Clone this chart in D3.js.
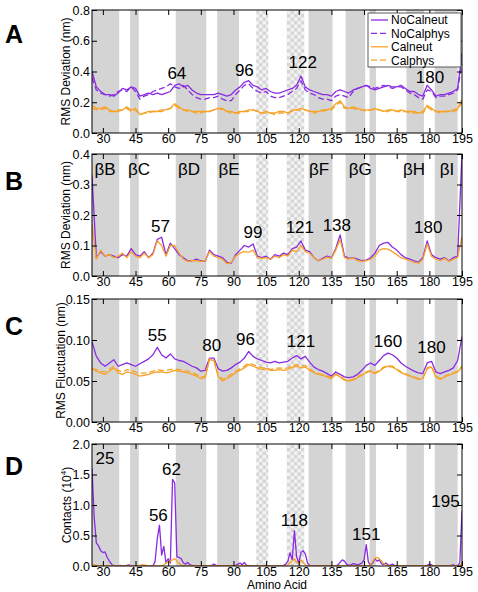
<!DOCTYPE html>
<html><head><meta charset="utf-8">
<script src="https://cdn.jsdelivr.net/npm/d3@7"></script>
<style>body{margin:0;background:#fff}svg{display:block;font-family:"Liberation Sans",Arial,Helvetica,sans-serif}</style>
</head><body><svg id="c" width="478" height="592"></svg>
<script>
// ---------- DATA ----------
const residues = [25,27,29,31,33,35,37,39,41,43,45,47,49,51,53,55,57,59,61,63,65,67,69,71,73,75,77,79,81,83,85,87,89,91,93,95,97,99,101,103,105,107,109,111,113,115,117,119,121,123,125,127,129,131,133,135,137,139,141,143,145,147,149,151,153,155,157,159,161,163,165,167,169,171,173,175,177,179,181,183,185,187,189,191,193,195];
const residuesD = [25,26,27,28,29,30,31,32,33,34,35,36,37,38,39,40,41,42,43,44,45,46,47,48,49,50,51,52,53,54,55,56,57,58,59,60,61,62,63,64,65,66,67,68,69,70,71,72,73,74,75,76,77,78,79,80,81,82,83,84,85,86,87,88,89,90,91,92,93,94,95,96,97,98,99,100,101,102,103,104,105,106,107,108,109,110,111,112,113,114,115,116,117,118,119,120,121,122,123,124,125,126,127,128,129,130,131,132,133,134,135,136,137,138,139,140,141,142,143,144,145,146,147,148,149,150,151,152,153,154,155,156,157,158,159,160,161,162,163,164,165,166,167,168,169,170,171,172,173,174,175,176,177,178,179,180,181,182,183,184,185,186,187,188,189,190,191,192,193,194,195];

const seriesNames = ["NoCalneut","NoCalphys","Calneut","Calphys"];

// Panel A: RMS deviation (nm)
const rmsdA_NoCalneut = [0.40,0.30,0.27,0.25,0.25,0.24,0.26,0.29,0.28,0.30,0.29,0.24,0.25,0.26,0.25,0.26,0.25,0.26,0.27,0.31,0.32,0.30,0.31,0.28,0.26,0.25,0.25,0.25,0.25,0.26,0.25,0.24,0.25,0.28,0.30,0.33,0.34,0.31,0.30,0.28,0.29,0.27,0.26,0.26,0.27,0.28,0.29,0.31,0.37,0.30,0.28,0.27,0.26,0.25,0.25,0.24,0.27,0.28,0.27,0.26,0.28,0.29,0.30,0.31,0.29,0.28,0.29,0.30,0.31,0.30,0.30,0.31,0.29,0.27,0.27,0.25,0.24,0.31,0.28,0.24,0.25,0.25,0.26,0.27,0.29,0.52];
const rmsdA_NoCalphys = [0.36,0.28,0.26,0.25,0.24,0.25,0.27,0.28,0.27,0.30,0.27,0.22,0.24,0.25,0.27,0.28,0.29,0.30,0.32,0.30,0.29,0.31,0.28,0.25,0.23,0.22,0.22,0.23,0.23,0.24,0.22,0.21,0.21,0.25,0.28,0.31,0.32,0.29,0.27,0.26,0.27,0.24,0.23,0.23,0.24,0.25,0.27,0.29,0.34,0.28,0.26,0.25,0.23,0.22,0.22,0.21,0.24,0.25,0.24,0.23,0.27,0.29,0.30,0.31,0.30,0.29,0.30,0.31,0.30,0.29,0.30,0.30,0.28,0.26,0.25,0.23,0.22,0.28,0.27,0.23,0.24,0.24,0.25,0.26,0.28,0.46];
const rmsdA_Calneut = [0.18,0.16,0.16,0.17,0.15,0.14,0.14,0.15,0.17,0.15,0.16,0.12,0.13,0.14,0.14,0.14,0.15,0.15,0.16,0.19,0.17,0.15,0.15,0.14,0.14,0.14,0.14,0.14,0.15,0.16,0.16,0.14,0.14,0.13,0.14,0.14,0.15,0.15,0.14,0.13,0.14,0.13,0.13,0.14,0.14,0.13,0.15,0.15,0.16,0.15,0.14,0.14,0.14,0.15,0.15,0.16,0.19,0.21,0.17,0.16,0.17,0.16,0.15,0.15,0.15,0.16,0.15,0.14,0.15,0.15,0.14,0.15,0.14,0.14,0.14,0.13,0.14,0.18,0.16,0.14,0.14,0.14,0.14,0.15,0.16,0.22];
const rmsdA_Calphys = [0.16,0.15,0.15,0.16,0.14,0.14,0.15,0.15,0.16,0.14,0.15,0.12,0.13,0.13,0.14,0.14,0.14,0.15,0.16,0.18,0.16,0.15,0.14,0.14,0.13,0.13,0.14,0.14,0.15,0.16,0.15,0.14,0.13,0.13,0.13,0.14,0.14,0.15,0.14,0.13,0.13,0.13,0.12,0.13,0.13,0.13,0.14,0.15,0.15,0.15,0.14,0.13,0.14,0.14,0.15,0.15,0.18,0.20,0.16,0.16,0.16,0.15,0.15,0.14,0.15,0.15,0.15,0.14,0.14,0.15,0.14,0.14,0.14,0.13,0.13,0.13,0.13,0.17,0.15,0.14,0.13,0.14,0.14,0.14,0.15,0.20];

// Panel B: RMS deviation (nm), per residue
const rmsdB_NoCalneut = [0.33,0.06,0.08,0.065,0.07,0.065,0.06,0.07,0.065,0.09,0.07,0.065,0.08,0.06,0.075,0.12,0.127,0.07,0.108,0.09,0.07,0.06,0.05,0.05,0.055,0.05,0.048,0.085,0.07,0.065,0.06,0.045,0.042,0.07,0.085,0.1,0.095,0.105,0.065,0.06,0.065,0.055,0.07,0.065,0.075,0.07,0.09,0.095,0.115,0.085,0.08,0.06,0.05,0.058,0.065,0.06,0.09,0.135,0.065,0.058,0.06,0.055,0.05,0.052,0.06,0.075,0.1,0.108,0.11,0.095,0.085,0.07,0.06,0.055,0.05,0.045,0.06,0.115,0.07,0.06,0.055,0.06,0.05,0.06,0.065,0.40];
const rmsdB_Calneut = [0.17,0.055,0.085,0.065,0.07,0.06,0.065,0.075,0.06,0.08,0.065,0.06,0.075,0.06,0.07,0.115,0.1,0.065,0.1,0.1,0.075,0.055,0.048,0.05,0.05,0.048,0.05,0.08,0.065,0.06,0.055,0.04,0.045,0.065,0.075,0.08,0.078,0.085,0.06,0.058,0.06,0.055,0.065,0.06,0.07,0.065,0.085,0.08,0.1,0.08,0.075,0.06,0.05,0.055,0.062,0.058,0.085,0.12,0.06,0.055,0.06,0.05,0.048,0.05,0.055,0.065,0.085,0.09,0.088,0.08,0.07,0.06,0.055,0.05,0.045,0.042,0.055,0.105,0.065,0.055,0.05,0.058,0.048,0.055,0.06,0.13];

// Panel C: RMS fluctuation (nm)
const rmsfC_NoCalneut = [0.098,0.08,0.072,0.068,0.072,0.076,0.068,0.07,0.072,0.07,0.068,0.071,0.074,0.077,0.082,0.091,0.082,0.078,0.083,0.077,0.075,0.074,0.071,0.068,0.066,0.062,0.063,0.078,0.078,0.065,0.062,0.063,0.066,0.07,0.073,0.078,0.086,0.08,0.077,0.075,0.073,0.072,0.074,0.072,0.073,0.074,0.078,0.081,0.077,0.08,0.073,0.067,0.064,0.062,0.059,0.056,0.061,0.058,0.055,0.054,0.055,0.058,0.063,0.069,0.072,0.069,0.075,0.081,0.084,0.082,0.078,0.072,0.068,0.065,0.062,0.06,0.059,0.072,0.074,0.061,0.059,0.061,0.063,0.066,0.075,0.104];
const rmsfC_Calneut = [0.066,0.062,0.06,0.058,0.062,0.066,0.06,0.058,0.061,0.06,0.058,0.056,0.057,0.058,0.06,0.061,0.061,0.06,0.061,0.063,0.062,0.061,0.06,0.058,0.056,0.053,0.054,0.076,0.075,0.055,0.05,0.053,0.056,0.06,0.063,0.066,0.07,0.068,0.066,0.064,0.065,0.063,0.063,0.064,0.063,0.064,0.067,0.068,0.066,0.067,0.063,0.06,0.058,0.057,0.055,0.053,0.058,0.055,0.051,0.05,0.051,0.054,0.057,0.06,0.062,0.059,0.062,0.066,0.068,0.067,0.064,0.06,0.058,0.056,0.054,0.052,0.053,0.065,0.067,0.055,0.052,0.055,0.057,0.059,0.061,0.067];
const rmsfC_Calphys = [0.064,0.064,0.062,0.061,0.064,0.068,0.063,0.061,0.064,0.063,0.061,0.059,0.06,0.06,0.062,0.064,0.063,0.063,0.064,0.065,0.064,0.063,0.062,0.06,0.058,0.055,0.056,0.077,0.076,0.057,0.052,0.055,0.058,0.062,0.065,0.068,0.072,0.07,0.068,0.066,0.066,0.064,0.065,0.066,0.065,0.066,0.069,0.07,0.068,0.069,0.065,0.061,0.059,0.058,0.056,0.054,0.059,0.056,0.052,0.051,0.052,0.055,0.058,0.061,0.063,0.06,0.063,0.067,0.069,0.068,0.065,0.061,0.059,0.057,0.055,0.053,0.054,0.066,0.068,0.056,0.053,0.056,0.058,0.06,0.062,0.068];

// Panel D: contacts (10^4), one value per residue 25..195
const contactsD_NoCalneut = [
1.60,0.80,0.38,0.33,0.25,0.22,0.23,0.14,0.08,0.03,
0,0,0,0.01,0,0,0.01,0.02,0,0,
0,0,0,0,0,0,0,0,0,0.08,
0.45,0.67,0.18,0.32,0.05,0.12,0.05,1.42,1.36,0.15,
0.14,0.12,0.05,0.03,0.06,0.02,0.01,0,0,0,
0,0,0,0,0,0.01,0.03,0.01,0,0,
0,0,0,0,0,0,0.01,0.03,0.05,0.02,
0.06,0.01,0,0,0,0,0,0,0,0,
0,0,0,0,0,0,0,0,0.01,0.03,
0.08,0.22,0.1,0.58,0.15,0.05,0.22,0.25,0.2,0.05,
0.01,0,0,0,0,0,0,0,0,0,
0,0,0,0.02,0.06,0.1,0.08,0.03,0.01,0.02,
0.04,0.03,0.02,0.03,0.05,0.1,0.35,0.06,0.02,0.05,
0.12,0.08,0.1,0.04,0.02,0.05,0.02,0.01,0.03,0.01,
0,0,0,0,0,0,0,0,0,0,
0,0,0,0,0.01,0.03,0.02,0,0,0,
0,0,0,0,0,0.01,0.02,0,0,0.05,
0.9];
const contactsD_Calneut = [
0.03,0.02,0.01,0,0,0,0,0,0,0,
0,0,0,0,0,0,0,0,0,0,
0,0,0.01,0.02,0.02,0.01,0,0,0,0,
0,0,0,0.02,0.05,0.06,0.08,0.1,0.12,0.08,
0.04,0.02,0,0,0,0,0,0,0,0,
0,0,0,0,0,0,0,0,0,0,
0,0,0,0,0,0,0,0,0,0,
0,0,0,0,0,0,0,0,0,0,
0,0,0,0,0,0,0,0,0,0,
0.02,0.05,0.08,0.12,0.06,0.03,0.1,0.06,0.02,0,
0,0,0,0,0,0,0,0,0,0,
0,0,0,0,0,0,0,0,0,0,
0,0,0,0,0,0,0,0,0.02,0.08,
0.13,0.14,0.12,0.08,0.04,0.02,0,0,0,0,
0,0,0,0,0,0,0,0,0,0,
0,0,0,0,0,0,0,0,0,0,
0,0,0,0,0,0,0,0,0,0,
0.05];

// Secondary-structure bands (residue ranges)
const strandBands = [[25,37.5],[42.5,46.5],[63.5,77.5],[82.5,92.5],[124.5,135.5],[141.5,150.5],[152.5,155.5],[169.5,177.5],[182.5,193]];
const checkerBands = [[100.5,106],[114.5,122.5]];
const strandNames = ["βB","βC","βD","βE","βF","βG","βH","βI"];
const strandLabelPos = [31,46.6,69.6,88,129.3,148.2,173,188.1];

const xTicks = [30,45,60,75,90,105,120,135,150,165,180,195];

// Peak labels: [residue position, value position, text]
const peaksA = [[64,0.351,"64"],[95,0.371,"96"],[121.8,0.423,"122"],[180.3,0.325,"180"]];
const peaksB = [[56.5,0.145,"57"],[99,0.125,"99"],[120.5,0.141,"121"],[137.5,0.147,"138"],[179.5,0.141,"180"]];
const peaksC = [[55,0.099,"55"],[80,0.086,"80"],[95.5,0.094,"96"],[121,0.092,"121"],[161,0.092,"160"],[181,0.084,"180"]];
const peaksD = [[31,1.67,"25"],[61.5,1.5,"62"],[55.5,0.73,"56"],[118,0.66,"118"],[151,0.42,"151"],[187.4,0.96,"195"]];

// ---------- LAYOUT ----------
const svg = d3.select("#c");
const L = 92, R = 462;
const purple = "#8a2be2", orange = "#f7a328";
const FONT = '"Liberation Sans",Arial,Helvetica,sans-serif';
const x = d3.scaleLinear().domain([25,195]).range([L,R]);

const defs = svg.append("defs");
const pat = defs.append("pattern").attr("id","chk").attr("patternUnits","userSpaceOnUse")
  .attr("width",7).attr("height",7);
pat.append("rect").attr("width",7).attr("height",7).attr("fill","#f2f2f2");
pat.append("rect").attr("width",3.5).attr("height",3.5).attr("fill","#d6d6d6");
pat.append("rect").attr("x",3.5).attr("y",3.5).attr("width",3.5).attr("height",3.5).attr("fill","#d6d6d6");

const panels = [
  {letter:"A", top:10, bottom:133, ymax:0.8, yticks:[0,0.2,0.4,0.6,0.8], fmt:".1f", ylabel:"RMS Deviation (nm)", ylx:70,
   xs:residues, series:[[rmsdA_NoCalneut,purple,false],[rmsdA_NoCalphys,purple,true],[rmsdA_Calneut,orange,false],[rmsdA_Calphys,orange,true]], peaks:peaksA, letterY:43},
  {letter:"B", top:154, bottom:276, ymax:0.4, yticks:[0,0.1,0.2,0.3,0.4], fmt:".1f", ylabel:"RMS Deviation (nm)", ylx:70,
   xs:residues, series:[[rmsdB_NoCalneut,purple,false],[rmsdB_Calneut,orange,false]], peaks:peaksB, letterY:190, strands:true},
  {letter:"C", top:299, bottom:422, ymax:0.15, yticks:[0,0.05,0.10,0.15], fmt:".2f", ylabel:"RMS Fluctuation (nm)", ylx:65,
   xs:residues, series:[[rmsfC_NoCalneut,purple,false],[rmsfC_Calphys,orange,true],[rmsfC_Calneut,orange,false]], peaks:peaksC, letterY:335},
  {letter:"D", top:444, bottom:566, ymax:2.0, yticks:[0,0.5,1.0,1.5,2.0], fmt:".1f", ylabel:"Contacts (10", ylx:71,
   xs:residuesD, series:[[contactsD_NoCalneut,purple,false],[contactsD_Calneut,orange,false]], peaks:peaksD, letterY:475}
];

panels.forEach((p,pi) => {
  const y = d3.scaleLinear().domain([0,p.ymax]).range([p.bottom,p.top]);
  const g = svg.append("g");
  const clipId = "clip"+pi;
  defs.append("clipPath").attr("id",clipId).append("rect")
    .attr("x",L).attr("y",p.top).attr("width",R-L).attr("height",p.bottom-p.top);
  const h = p.bottom - p.top;
  g.selectAll(".band").data(strandBands).join("rect")
    .attr("x",d=>x(d[0])).attr("width",d=>x(d[1])-x(d[0]))
    .attr("y",p.top).attr("height",h).attr("fill","#d4d4d4");
  g.selectAll(".chk").data(checkerBands).join("rect")
    .attr("x",d=>x(d[0])).attr("width",d=>x(d[1])-x(d[0]))
    .attr("y",p.top).attr("height",h).attr("fill","url(#chk)");

  const lg = g.append("g").attr("clip-path",`url(#${clipId})`);
  p.series.forEach(([vals,col,dash]) => {
    const line = d3.line().x((d,i)=>x(p.xs[i])).y(d=>y(d));
    lg.append("path").datum(vals).attr("d",line).attr("fill","none")
      .attr("stroke",col).attr("stroke-width",1.3).attr("stroke-linejoin","round")
      .attr("stroke-dasharray",dash?"6,3":null);
  });

  // axes
  const ax = (a) => a.call(s=>s.select(".domain").remove())
    .call(s=>s.selectAll("line").attr("stroke","#000"))
    .call(s=>s.selectAll("text").attr("fill","#000").style("font-size","12.5px").style("font-family",FONT));
  g.append("g").attr("transform",`translate(0,${p.bottom})`)
    .call(d3.axisBottom(x).tickValues(xTicks).tickSize(-5).tickPadding(1)).call(ax);
  g.append("g").attr("transform",`translate(0,${p.top})`)
    .call(d3.axisTop(x).tickValues(xTicks).tickSize(-5).tickFormat("")).call(ax);
  g.append("g").attr("transform",`translate(${L},0)`)
    .call(d3.axisLeft(y).tickValues(p.yticks).tickSize(-5).tickPadding(2).tickFormat(d3.format(p.fmt))).call(ax);
  g.append("g").attr("transform",`translate(${R},0)`)
    .call(d3.axisRight(y).tickValues(p.yticks).tickSize(-5).tickFormat("")).call(ax);
  g.append("rect").attr("x",L).attr("y",p.top).attr("width",R-L).attr("height",h)
    .attr("fill","none").attr("stroke","#000").attr("stroke-width",1);

  // y label
  const yl = g.append("text").attr("transform",`translate(${p.ylx},${(p.top+p.bottom)/2}) rotate(-90)`)
    .attr("text-anchor","middle").style("font-size","12px").text(p.ylabel);
  if (p.letter==="D") {
    yl.append("tspan").attr("dy",-5).style("font-size","8px").text("4");
    yl.append("tspan").attr("dy",5).text(")");
  }
  // panel letter
  g.append("text").attr("x",5).attr("y",p.letterY).style("font-size","25px").style("font-weight","bold").text(p.letter);

  // peak labels
  g.selectAll(".pk").data(p.peaks).join("text")
    .attr("x",d=>x(d[0])).attr("y",d=>y(d[1])).attr("text-anchor","middle")
    .style("font-size","17px").text(d=>d[2]);

  if (p.strands) {
    g.selectAll(".st").data(strandNames).join("text")
      .attr("x",(d,i)=>x(strandLabelPos[i])).attr("y",p.top+21).attr("text-anchor","middle")
      .style("font-size","17px").text(d=>d);
  }
});

// x-axis title
svg.append("text").attr("x",(L+R)/2).attr("y",589).attr("text-anchor","middle").style("font-size","12px").text("Amino Acid");

// legend
const leg = svg.append("g");
leg.append("rect").attr("x",368).attr("y",13).attr("width",93).attr("height",54).attr("fill","#fff").attr("stroke","#333").attr("stroke-width",0.8);
const legItems = [[seriesNames[0],purple,false],[seriesNames[1],purple,true],[seriesNames[2],orange,false],[seriesNames[3],orange,true]];
legItems.forEach(([name,col,dash],i) => {
  const yy = 20 + i*13.4;
  leg.append("line").attr("x1",371).attr("x2",388).attr("y1",yy).attr("y2",yy)
    .attr("stroke",col).attr("stroke-width",1.3).attr("stroke-dasharray",dash?"6,3":null);
  leg.append("text").attr("x",391).attr("y",yy+4.3).style("font-size","12px").text(name);
});
</script></body></html>
